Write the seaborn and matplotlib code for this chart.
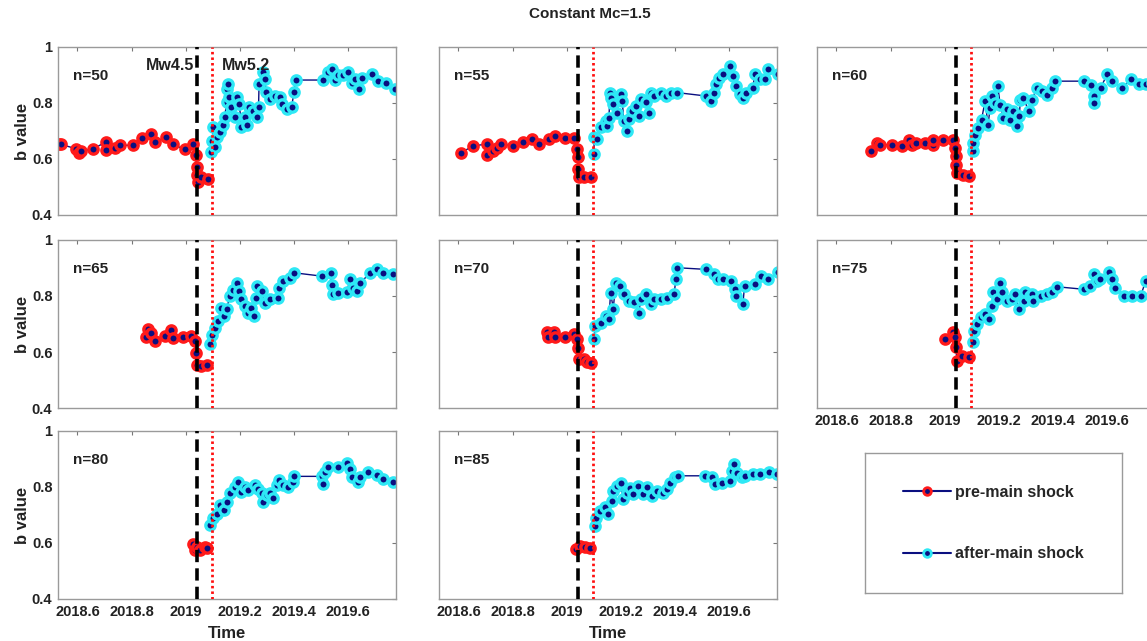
import matplotlib
matplotlib.use("Agg")
import matplotlib.pyplot as plt
from matplotlib.lines import Line2D
import seaborn as sns

# ---------------- data ----------------
t_pre_50 = [2018.532, 2018.540, 2018.593, 2018.606, 2018.614, 2018.657, 2018.704, 2018.707, 2018.738, 2018.756,
            2018.805, 2018.840, 2018.873, 2018.886, 2018.926, 2018.953, 2018.997, 2019.027, 2019.037, 2019.040,
            2019.042, 2019.046, 2019.058, 2019.083]
b_pre_50 = [0.654, 0.652, 0.637, 0.621, 0.628, 0.636, 0.660, 0.633, 0.640, 0.649,
            0.649, 0.676, 0.688, 0.660, 0.678, 0.652, 0.634, 0.654, 0.613, 0.572,
            0.542, 0.519, 0.536, 0.530]
t_post_50 = [2019.095, 2019.098, 2019.101, 2019.107, 2019.114, 2019.126, 2019.136, 2019.144, 2019.151, 2019.154,
             2019.158, 2019.161, 2019.169, 2019.181, 2019.190, 2019.198, 2019.206, 2019.218, 2019.227, 2019.235,
             2019.249, 2019.264, 2019.269, 2019.271, 2019.284, 2019.292, 2019.298, 2019.313, 2019.329, 2019.348,
             2019.356, 2019.373, 2019.391, 2019.400, 2019.406, 2019.508, 2019.527, 2019.539, 2019.551, 2019.564,
             2019.582, 2019.601, 2019.613, 2019.626, 2019.642, 2019.650, 2019.687, 2019.712, 2019.740, 2019.773]
b_post_50 = [0.625, 0.666, 0.714, 0.643, 0.678, 0.696, 0.720, 0.749, 0.802, 0.850,
             0.868, 0.820, 0.785, 0.749, 0.820, 0.797, 0.714, 0.749, 0.720, 0.785,
             0.773, 0.749, 0.785, 0.868, 0.909, 0.885, 0.838, 0.814, 0.826, 0.820,
             0.797, 0.779, 0.785, 0.838, 0.882, 0.882, 0.909, 0.921, 0.882, 0.900,
             0.900, 0.909, 0.873, 0.885, 0.850, 0.891, 0.903, 0.879, 0.873, 0.850]

t_pre_55 = [2018.611, 2018.654, 2018.704, 2018.706, 2018.728, 2018.741, 2018.756, 2018.803, 2018.840, 2018.871,
            2018.896, 2018.935, 2018.958, 2018.995, 2019.028, 2019.038, 2019.041, 2019.042, 2019.044, 2019.065,
            2019.088]
b_pre_55 = [0.623, 0.647, 0.653, 0.615, 0.629, 0.639, 0.653, 0.647, 0.659, 0.671,
            0.653, 0.671, 0.683, 0.675, 0.675, 0.635, 0.606, 0.564, 0.534, 0.534,
            0.534]
t_post_55 = [2019.100, 2019.102, 2019.112, 2019.125, 2019.144, 2019.149, 2019.156, 2019.160, 2019.162, 2019.172,
             2019.187, 2019.199, 2019.205, 2019.211, 2019.224, 2019.230, 2019.242, 2019.255, 2019.267, 2019.273,
             2019.292, 2019.304, 2019.310, 2019.323, 2019.347, 2019.366, 2019.385, 2019.409, 2019.515, 2019.534,
             2019.546, 2019.552, 2019.561, 2019.577, 2019.602, 2019.614, 2019.627, 2019.639, 2019.651, 2019.664,
             2019.688, 2019.695, 2019.713, 2019.732, 2019.744, 2019.781]
b_post_55 = [0.617, 0.677, 0.671, 0.713, 0.736, 0.718, 0.748, 0.837, 0.819, 0.796,
             0.766, 0.831, 0.808, 0.736, 0.701, 0.742, 0.772, 0.790, 0.754, 0.813,
             0.802, 0.766, 0.837, 0.825, 0.837, 0.825, 0.837, 0.837, 0.825, 0.808,
             0.837, 0.867, 0.891, 0.903, 0.932, 0.897, 0.861, 0.831, 0.819, 0.837,
             0.855, 0.903, 0.885, 0.885, 0.920, 0.905]

t_pre_60 = [2018.729, 2018.748, 2018.760, 2018.804, 2018.841, 2018.869, 2018.878, 2018.894, 2018.927, 2018.955,
            2018.957, 2018.995, 2019.030, 2019.038, 2019.041, 2019.042, 2019.044, 2019.069, 2019.091]
b_pre_60 = [0.627, 0.657, 0.651, 0.651, 0.645, 0.669, 0.651, 0.657, 0.657, 0.651,
            0.669, 0.669, 0.669, 0.639, 0.609, 0.579, 0.549, 0.543, 0.541]
t_post_60 = [2019.104, 2019.105, 2019.112, 2019.124, 2019.136, 2019.149, 2019.160, 2019.168, 2019.174, 2019.186,
             2019.196, 2019.205, 2019.217, 2019.230, 2019.242, 2019.254, 2019.266, 2019.276, 2019.279, 2019.291,
             2019.310, 2019.322, 2019.341, 2019.359, 2019.378, 2019.397, 2019.409, 2019.514, 2019.539, 2019.551,
             2019.553, 2019.576, 2019.600, 2019.619, 2019.655, 2019.687, 2019.718, 2019.742, 2019.767]
b_post_60 = [0.627, 0.657, 0.687, 0.711, 0.741, 0.806, 0.723, 0.783, 0.824, 0.800,
             0.860, 0.794, 0.747, 0.777, 0.741, 0.771, 0.717, 0.753, 0.812, 0.818,
             0.771, 0.812, 0.854, 0.842, 0.830, 0.854, 0.878, 0.878, 0.866, 0.824,
             0.800, 0.854, 0.902, 0.878, 0.854, 0.884, 0.869, 0.869, 0.872]

t_pre_65 = [2018.855, 2018.861, 2018.873, 2018.886, 2018.923, 2018.947, 2018.953, 2018.990, 2019.021, 2019.034,
            2019.037, 2019.040, 2019.058, 2019.077]
b_pre_65 = [0.654, 0.683, 0.668, 0.639, 0.656, 0.677, 0.650, 0.654, 0.656, 0.639,
            0.597, 0.555, 0.551, 0.555]
t_post_65 = [2019.091, 2019.096, 2019.108, 2019.120, 2019.132, 2019.141, 2019.151, 2019.163, 2019.176, 2019.188,
             2019.198, 2019.206, 2019.218, 2019.231, 2019.243, 2019.252, 2019.259, 2019.264, 2019.280, 2019.292,
             2019.311, 2019.342, 2019.345, 2019.360, 2019.385, 2019.400, 2019.502, 2019.535, 2019.539, 2019.545,
             2019.564, 2019.595, 2019.607, 2019.619, 2019.632, 2019.644, 2019.681, 2019.705, 2019.730, 2019.767]
b_post_65 = [0.627, 0.662, 0.686, 0.710, 0.758, 0.728, 0.752, 0.800, 0.823, 0.847,
             0.817, 0.788, 0.764, 0.740, 0.758, 0.728, 0.794, 0.835, 0.817, 0.776,
             0.788, 0.794, 0.829, 0.853, 0.865, 0.883, 0.871, 0.881, 0.841, 0.806,
             0.812, 0.814, 0.859, 0.829, 0.817, 0.847, 0.881, 0.897, 0.881, 0.877]

t_pre_70 = [2018.927, 2018.929, 2018.954, 2018.958, 2018.995, 2019.028, 2019.038, 2019.041, 2019.044, 2019.063,
            2019.075, 2019.088]
b_pre_70 = [0.670, 0.652, 0.672, 0.652, 0.652, 0.664, 0.646, 0.616, 0.575, 0.575,
            0.563, 0.560]
t_post_70 = [2019.100, 2019.106, 2019.125, 2019.144, 2019.156, 2019.162, 2019.172, 2019.181, 2019.197, 2019.211,
             2019.230, 2019.248, 2019.267, 2019.273, 2019.292, 2019.310, 2019.323, 2019.347, 2019.372, 2019.397,
             2019.403, 2019.409, 2019.515, 2019.546, 2019.558, 2019.577, 2019.608, 2019.620, 2019.627, 2019.651,
             2019.657, 2019.694, 2019.719, 2019.744, 2019.781]
b_post_70 = [0.646, 0.693, 0.705, 0.729, 0.717, 0.812, 0.755, 0.848, 0.836, 0.806,
             0.783, 0.777, 0.741, 0.789, 0.806, 0.771, 0.789, 0.789, 0.794, 0.806,
             0.860, 0.901, 0.895, 0.878, 0.860, 0.860, 0.854, 0.824, 0.800, 0.771,
             0.836, 0.842, 0.872, 0.860, 0.886]

t_pre_75 = [2019.001, 2019.030, 2019.038, 2019.042, 2019.044, 2019.063, 2019.088]
b_pre_75 = [0.647, 0.670, 0.652, 0.617, 0.569, 0.587, 0.581]
t_post_75 = [2019.106, 2019.108, 2019.118, 2019.133, 2019.149, 2019.162, 2019.174, 2019.180, 2019.193, 2019.203,
             2019.211, 2019.230, 2019.248, 2019.261, 2019.273, 2019.292, 2019.298, 2019.316, 2019.322, 2019.328,
             2019.354, 2019.378, 2019.397, 2019.415, 2019.514, 2019.538, 2019.551, 2019.563, 2019.575, 2019.606,
             2019.618, 2019.631, 2019.662, 2019.693, 2019.724, 2019.743, 2019.770]
b_post_75 = [0.635, 0.676, 0.700, 0.724, 0.736, 0.718, 0.765, 0.813, 0.789, 0.845,
             0.813, 0.783, 0.789, 0.807, 0.753, 0.783, 0.813, 0.801, 0.807, 0.783,
             0.801, 0.807, 0.813, 0.833, 0.824, 0.836, 0.878, 0.854, 0.860, 0.884,
             0.860, 0.830, 0.801, 0.801, 0.801, 0.854, 0.840]

t_pre_80 = [2019.027, 2019.034, 2019.040, 2019.052, 2019.071, 2019.079]
b_pre_80 = [0.598, 0.575, 0.587, 0.575, 0.587, 0.581]
t_post_80 = [2019.091, 2019.101, 2019.114, 2019.126, 2019.141, 2019.151, 2019.163, 2019.182, 2019.194, 2019.206,
             2019.218, 2019.231, 2019.255, 2019.268, 2019.280, 2019.286, 2019.299, 2019.311, 2019.323, 2019.336,
             2019.345, 2019.360, 2019.379, 2019.395, 2019.401, 2019.502, 2019.508, 2019.514, 2019.527, 2019.564,
             2019.595, 2019.607, 2019.613, 2019.638, 2019.644, 2019.675, 2019.705, 2019.730, 2019.767]
b_post_80 = [0.664, 0.688, 0.705, 0.735, 0.717, 0.747, 0.777, 0.800, 0.818, 0.783,
             0.800, 0.789, 0.806, 0.794, 0.777, 0.747, 0.771, 0.777, 0.759, 0.806,
             0.824, 0.806, 0.800, 0.818, 0.838, 0.838, 0.812, 0.854, 0.872, 0.872,
             0.886, 0.866, 0.836, 0.818, 0.836, 0.854, 0.842, 0.830, 0.818]

t_pre_85 = [2019.036, 2019.049, 2019.067, 2019.086]
b_pre_85 = [0.578, 0.590, 0.584, 0.582]
t_post_85 = [2019.104, 2019.110, 2019.123, 2019.141, 2019.154, 2019.166, 2019.172, 2019.184, 2019.199, 2019.209,
             2019.222, 2019.234, 2019.246, 2019.265, 2019.283, 2019.296, 2019.314, 2019.332, 2019.357, 2019.372,
             2019.382, 2019.400, 2019.412, 2019.511, 2019.536, 2019.548, 2019.573, 2019.605, 2019.610, 2019.619,
             2019.629, 2019.647, 2019.659, 2019.690, 2019.715, 2019.746, 2019.777]
b_post_85 = [0.661, 0.691, 0.715, 0.727, 0.703, 0.751, 0.786, 0.804, 0.816, 0.756,
             0.780, 0.798, 0.774, 0.804, 0.774, 0.800, 0.768, 0.786, 0.780, 0.792,
             0.816, 0.834, 0.840, 0.840, 0.834, 0.810, 0.816, 0.822, 0.857, 0.881,
             0.851, 0.834, 0.840, 0.846, 0.846, 0.855, 0.848]

panel_labels = ["n=50", "n=55", "n=60", "n=65", "n=70", "n=75", "n=80", "n=85"]
x_ticks = [2018.6, 2018.8, 2019.0, 2019.2, 2019.4, 2019.6]
x_ticklabels = ["2018.6", "2018.8", "2019", "2019.2", "2019.4", "2019.6"]
y_ticks = [0.4, 0.6, 0.8, 1.0]
y_ticklabels = ["0.4", "0.6", "0.8", "1"]
t_mw45 = 2019.040
t_mw52 = 2019.097
series_names = ["pre-main shock", "after-main shock"]
title_text = "Constant Mc=1.5"

# ---------------- style ----------------
sns.set_style("white")
plt.rcParams["font.family"] = ["Liberation Sans", "DejaVu Sans"]
plt.rcParams["font.weight"] = "bold"
plt.rcParams["axes.labelweight"] = "bold"

NAVY = "#0a0f80"
RED = "#ff1a1a"
CYAN = "#2ee8f5"
SPINE = "#9a9a9a"
TXT = "#222222"

W, H = 1147, 641
fig = plt.figure(figsize=(W / 100, H / 100), dpi=100)


def box(left, top, width, height):
    return [left / W, 1 - (top + height) / H, width / W, height / H]


col_left = [58, 439, 817]
row_top = [47, 240, 431]
AW, AH = 338, 168

panels = [
    (t_pre_50, b_pre_50, t_post_50, b_post_50),
    (t_pre_55, b_pre_55, t_post_55, b_post_55),
    (t_pre_60, b_pre_60, t_post_60, b_post_60),
    (t_pre_65, b_pre_65, t_post_65, b_post_65),
    (t_pre_70, b_pre_70, t_post_70, b_post_70),
    (t_pre_75, b_pre_75, t_post_75, b_post_75),
    (t_pre_80, b_pre_80, t_post_80, b_post_80),
    (t_pre_85, b_pre_85, t_post_85, b_post_85),
]

for i, (tp, bp, ta, ba) in enumerate(panels):
    r, c = divmod(i, 3)
    ax = fig.add_axes(box(col_left[c], row_top[r], AW, AH))
    common = dict(ax=ax, color=NAVY, linewidth=1.0, marker="o", markersize=6.7,
                  markerfacecolor=NAVY, markeredgewidth=2.4, sort=False,
                  estimator=None, legend=False)
    sns.lineplot(x=tp, y=bp, markeredgecolor=RED, **common)
    sns.lineplot(x=ta, y=ba, markeredgecolor=CYAN, **common)
    ax.axvline(t_mw45, color="black", linewidth=2.6, linestyle=(0, (3.4, 1.7)), zorder=5)
    ax.axvline(t_mw52, color="#ff1010", linewidth=2.0, linestyle=(0, (0.9, 1.1)), zorder=5)
    ax.set_xlim(2018.528, 2019.777)
    ax.set_ylim(0.4, 1.0)
    ax.set_xticks(x_ticks)
    ax.set_yticks(y_ticks)
    ax.tick_params(direction="in", top=True, right=True, length=3, width=0.8,
                   color="#777777", labelsize=10.5, labelcolor=TXT, pad=4)
    for s in ax.spines.values():
        s.set_color(SPINE)
        s.set_linewidth(1.0)
    if c == 0:
        ax.set_yticklabels(y_ticklabels, fontweight="bold")
        ax.set_ylabel("b value", fontsize=12, color=TXT, labelpad=1)
    else:
        ax.set_yticklabels([])
        ax.set_ylabel("")
    if r == 2 or i == 5:
        ax.set_xticklabels(x_ticklabels, fontweight="bold")
    else:
        ax.set_xticklabels([])
    if r == 2:
        ax.set_xlabel("Time", fontsize=12, color=TXT, labelpad=5)
    else:
        ax.set_xlabel("")
    ax.text(0.045, 0.83, panel_labels[i], transform=ax.transAxes, fontsize=11,
            fontweight="bold", color=TXT, ha="left", va="center")
    if i == 0:
        ax.text(t_mw45 - 0.01, 0.935, "Mw4.5", fontsize=11.5, fontweight="bold",
                color=TXT, ha="right", va="center")
        ax.text(t_mw52 + 0.035, 0.935, "Mw5.2", fontsize=11.5, fontweight="bold",
                color=TXT, ha="left", va="center")

# legend box
lax = fig.add_axes(box(865, 453, 257, 140))
lax.set_xticks([])
lax.set_yticks([])
for s in lax.spines.values():
    s.set_color(SPINE)
    s.set_linewidth(1.0)
handles = [
    Line2D([], [], color=NAVY, linewidth=1.5, marker="o", markersize=5.5,
           markerfacecolor=NAVY, markeredgecolor=RED, markeredgewidth=2.0),
    Line2D([], [], color=NAVY, linewidth=1.5, marker="o", markersize=5.5,
           markerfacecolor=NAVY, markeredgecolor=CYAN, markeredgewidth=2.0),
]
lax.legend(handles, series_names, loc="center", frameon=False,
           handlelength=3.0, handletextpad=0.3, labelspacing=2.9,
           prop={"weight": "bold", "size": 11.5})

fig.text(590 / W, 1 - 14 / H, title_text, ha="center", va="center", fontsize=11,
         fontweight="bold", color=TXT)

fig.savefig("out.png", dpi=100)
